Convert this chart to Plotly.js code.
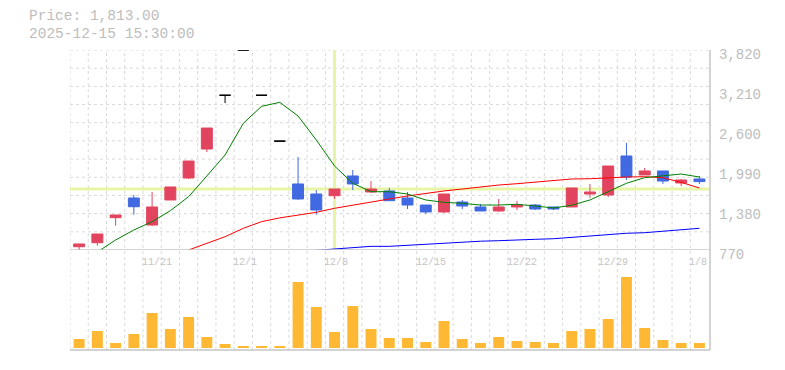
<!DOCTYPE html>
<html><head><meta charset="utf-8">
<script src="https://cdn.plot.ly/plotly-3.0.1.min.js"></script>
<style>html,body{margin:0;padding:0;background:#fff;}</style>
</head><body>
<div id="chart" style="width:785px;height:370px;"></div>
<script>
// ---- data ----
const dates = ['11/17','11/18','11/19','11/20','11/21','11/25','11/26','11/27','11/28','12/1','12/2','12/3','12/4','12/5','12/8','12/9','12/10','12/11','12/12','12/15','12/16','12/17','12/18','12/19','12/22','12/23','12/24','12/25','12/26','12/29','12/30','1/5','1/6','1/7','1/8'];
const openP  = [820, 881, 1263, 1563, 1151, 1533, 1868, 2310, 3130, 3820, 3130, 2430, 1777, 1624, 1598, 1899, 1655, 1670, 1563, 1456, 1350, 1502, 1426, 1365, 1426, 1456, 1426, 1426, 1624, 1609, 2204, 1914, 1975, 1792, 1853];
const highP  = [862, 1014, 1304, 1609, 1655, 1731, 2127, 2630, 3130, 3820, 3130, 2430, 2188, 1685, 1700, 1990, 1822, 1716, 1655, 1456, 1624, 1533, 1472, 1548, 1517, 1472, 1426, 1716, 1777, 2051, 2402, 2021, 1975, 1853, 1899];
const lowP   = [770, 836, 1141, 1308, 1136, 1533, 1853, 2265, 3011, 3820, 3130, 2430, 1533, 1308, 1548, 1685, 1639, 1522, 1395, 1319, 1334, 1395, 1365, 1350, 1380, 1380, 1380, 1426, 1563, 1578, 1838, 1914, 1777, 1746, 1777];
const closeP = [862, 1014, 1304, 1430, 1426, 1731, 2127, 2630, 3130, 3820, 3130, 2430, 1548, 1380, 1700, 1777, 1700, 1522, 1456, 1350, 1624, 1441, 1365, 1426, 1456, 1395, 1395, 1716, 1655, 2051, 1883, 1975, 1822, 1838, 1813];
const volume = [90, 170, 50, 140, 350, 190, 310, 110, 40, 20, 20, 20, 660, 410, 160, 420, 190, 100, 100, 60, 270, 90, 50, 110, 70, 60, 50, 170, 190, 290, 710, 200, 80, 50, 50];
const ma5  = [null, 740, 923, 1075, 1202, 1369, 1583, 1899, 2219, 2702, 2961, 3022, 2814, 2448, 2051, 1787, 1659, 1659, 1624, 1533, 1497, 1482, 1456, 1456, 1467, 1441, 1411, 1452, 1533, 1659, 1787, 1873, 1899, 1929, 1883];
const ma25 = [null, null, null, null, null, null, 770, 872, 973, 1101, 1202, 1260, 1304, 1345, 1406, 1456, 1507, 1548, 1594, 1635, 1670, 1700, 1731, 1761, 1781, 1807, 1827, 1853, 1857, 1873, 1883, 1888, 1873, 1802, 1716];
const ma75 = [null, null, null, null, null, null, null, null, null, null, null, null, null, 765, 785, 811, 826, 826, 842, 857, 872, 892, 904, 912, 918, 933, 942, 964, 984, 1009, 1025, 1034, 1055, 1070, 1101];
const labelDates = ['11/21','12/1','12/8','12/15','12/22','12/29','1/8'];
const priceTicks = [770, 1380, 1990, 2600, 3210, 3820];
const headerPrice = 1813.00;
const headerTime = '2025-12-15 15:30:00';
const crossDate = '12/8';

// ---- build ----
const idx = dates.map((d, i) => i);
const yMin = priceTicks[0], yMax = priceTicks[priceTicks.length - 1];
const xMin = -0.5, xMax = dates.length - 0.5 + 0.08;
const RED = '#e2445f', BLUE = '#4169e1', GRID = '#d9d9d9', AXIS = '#c4c4c4', TXT = '#bdbdbd';
const FONT = 'Liberation Mono, DejaVu Sans Mono, monospace';

const isFlat = idx.map(i => openP[i] === closeP[i]);
const pick = (arr, cond) => arr.map((v, i) => cond(i) ? v : null);

const traces = [
  {type:'scatter', mode:'lines', x: idx, y: ma75, line:{color:'#0000ff', width:1}, hoverinfo:'skip', xaxis:'x', yaxis:'y'},
  {type:'scatter', mode:'lines', x: idx, y: ma25, line:{color:'#ff0000', width:1}, hoverinfo:'skip', xaxis:'x', yaxis:'y'},
  {type:'scatter', mode:'lines', x: idx, y: ma5, line:{color:'#008000', width:1}, hoverinfo:'skip', xaxis:'x', yaxis:'y'},
  {type:'candlestick', x: idx,
    open: pick(openP, i => !isFlat[i]), high: pick(highP, i => !isFlat[i]),
    low: pick(lowP, i => !isFlat[i]), close: pick(closeP, i => !isFlat[i]),
    increasing:{line:{color:RED, width:1}, fillcolor:RED},
    decreasing:{line:{color:BLUE, width:1}, fillcolor:BLUE},
    whiskerwidth:0, hoverinfo:'skip', xaxis:'x', yaxis:'y'},
  {type:'candlestick', x: idx,
    open: pick(openP, i => isFlat[i]), high: pick(highP, i => isFlat[i]),
    low: pick(lowP, i => isFlat[i]), close: pick(closeP, i => isFlat[i]),
    increasing:{line:{color:'#000000', width:1}, fillcolor:'#000000'},
    decreasing:{line:{color:'#000000', width:1}, fillcolor:'#000000'},
    whiskerwidth:0, hoverinfo:'skip', xaxis:'x', yaxis:'y'},
  {type:'bar', x: idx, y: volume, width:0.6, marker:{color:'#ffb833'}, hoverinfo:'skip', xaxis:'x', yaxis:'y2'}
];

const shapes = [];
// vertical grid
for (let k = 0; k < dates.length; k++) {
  shapes.push({type:'line', xref:'x', yref:'paper', x0:k - 0.5, x1:k - 0.5, y0:0, y1:1, line:{color:GRID, width:1, dash:'3px,3px'}, layer:'below'});
}
// horizontal grid (11 intervals)
const nH = 11;
for (let k = 1; k <= nH; k++) {
  const v = yMin + k * (yMax - yMin) / nH;
  shapes.push({type:'line', xref:'paper', yref:'y', x0:0, x1:1, y0:v, y1:v, line:{color:GRID, width:1, dash:'3px,3px'}, layer:'below'});
}
// crosshair
const ci = dates.indexOf(crossDate);
shapes.push({type:'line', xref:'x', yref:'y', x0:xMin, x1:xMax, y0:closeP[ci], y1:closeP[ci], line:{color:'#e6f5a6', width:3}, layer:'between'});
shapes.push({type:'line', xref:'x', yref:'y', x0:ci, x1:ci, y0:yMin, y1:yMax, line:{color:'#e6f5a6', width:3}, layer:'between'});
// axis lines
shapes.push({type:'line', xref:'paper', yref:'y', x0:0, x1:1, y0:yMin, y1:yMin, line:{color:AXIS, width:1.5}, layer:'above'});
shapes.push({type:'line', xref:'paper', yref:'paper', x0:0, x1:1, y0:0, y1:0, line:{color:AXIS, width:1.5}, layer:'above'});
shapes.push({type:'line', xref:'paper', yref:'paper', x0:1, x1:1, y0:0, y1:1, line:{color:AXIS, width:1.5}, layer:'above'});

const annotations = [];
priceTicks.forEach(v => {
  annotations.push({xref:'paper', yref:'y', x:1, y:v, xanchor:'left', yanchor:'middle', xshift:7, yshift:-5,
    text: v.toLocaleString('en-US'), showarrow:false, font:{family:FONT, size:14, color:TXT}});
});
labelDates.forEach(d => {
  const i = dates.indexOf(d);
  annotations.push({xref:'x', yref:'paper', x:i - 0.5, y:0.2933, xanchor:'left', yanchor:'middle', xshift:-3,
    text:d, showarrow:false, font:{family:FONT, size:10, color:'#c4c4c4'}});
});
annotations.push({xref:'paper', yref:'paper', x:(30 - 70) / 640, y:(350 - 16) / 300, xanchor:'left', yanchor:'middle', xshift:-2, borderpad:0,
  text:'Price: ' + headerPrice.toLocaleString('en-US', {minimumFractionDigits:2, maximumFractionDigits:2}),
  showarrow:false, font:{family:FONT, size:14.5, color:TXT}});
annotations.push({xref:'paper', yref:'paper', x:(30 - 70) / 640, y:(350 - 33.5) / 300, xanchor:'left', yanchor:'middle', xshift:-2, borderpad:0,
  text:headerTime, showarrow:false, font:{family:FONT, size:14.5, color:TXT}});

const layout = {
  width:785, height:370,
  margin:{l:70, r:75, t:50, b:20, pad:0},
  paper_bgcolor:'#ffffff', plot_bgcolor:'rgba(0,0,0,0)',
  showlegend:false, hovermode:false,
  boxgap:0.4, boxgroupgap:0,
  bargap:0.4,
  xaxis:{range:[xMin, xMax], anchor:'y2', showgrid:false, zeroline:false, showticklabels:false, showline:false, ticks:'', rangeslider:{visible:false}, fixedrange:true},
  yaxis:{domain:[1/3, 1], range:[yMin, yMax], showgrid:false, zeroline:false, showticklabels:false, showline:false, ticks:'', fixedrange:true},
  yaxis2:{domain:[0, 0.2933], range:[-20, 860], showgrid:false, zeroline:false, showticklabels:false, showline:false, ticks:'', fixedrange:true},
  shapes:shapes, annotations:annotations,
  font:{family:FONT}
};

Plotly.newPlot('chart', traces, layout, {displayModeBar:false, staticPlot:true});
</script>
</body></html>
